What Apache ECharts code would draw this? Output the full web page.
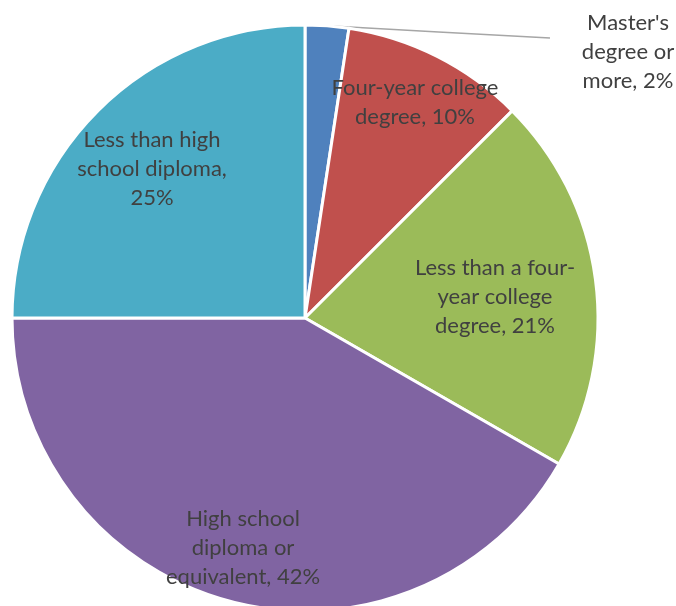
<!DOCTYPE html>
<html>
<head>
<meta charset="utf-8">
<script src="https://cdn.jsdelivr.net/npm/echarts@6/dist/echarts.min.js"></script>
<style>
  html, body { margin: 0; padding: 0; background: #fff; }
  #chart { width: 676px; height: 606px; }
</style>
</head>
<body>
<div id="chart"></div>
<script>
// Educational attainment shares (percent), clockwise from 12 o'clock
const categories = [
  "Master's\ndegree or\nmore",
  'Four-year college\ndegree',
  'Less than a four-\nyear college\ndegree',
  'High school\ndiploma or\nequivalent',
  'Less than high\nschool diploma'
];
const shares = [2.4, 10.1, 20.8, 41.7, 25.0];
const colors = ['#4F81BD', '#C0504D', '#9BBB59', '#8064A2', '#4BACC6'];

// Separator between a category name and its percentage
const separators = [', ', ', ', ', ', ', ', ',\n'];

// Label anchor points (label centres) for each slice
const labelSpots = [
  [628, 52],
  [415, 102],
  [495, 297],
  [243, 548],
  [152, 169]
];
// Where the leader line of the outside label ends
const leaderEnd = [550, 38];

const chart = echarts.init(document.getElementById('chart'), null, { renderer: 'canvas' });

chart.setOption({
  animation: false,
  series: [{
    type: 'pie',
    center: [305, 318],
    radius: 293,
    startAngle: 90,
    clockwise: true,
    percentPrecision: 0,
    data: categories.map((name, i) => ({
      name: name,
      value: shares[i],
      itemStyle: { color: colors[i] },
      label: i === 0 ? { position: 'outside' } : { position: 'inside' },
      labelLine: { show: i === 0 }
    })),
    itemStyle: { borderColor: '#ffffff', borderWidth: 3 },
    label: {
      show: true,
      formatter: function (p) {
        return p.name + separators[p.dataIndex] + p.percent + '%';
      },
      fontFamily: 'Lato, "Open Sans", sans-serif',
      fontSize: 22,
      lineHeight: 29,
      color: '#404040',
      align: 'center'
    },
    labelLine: {
      lineStyle: { color: '#A6A6A6', width: 1.5 },
      length: 10,
      length2: 10
    },
    labelLayout: function (params) {
      const p = labelSpots[params.dataIndex];
      const out = {
        x: p[0],
        y: p[1],
        align: 'center',
        verticalAlign: 'middle'
      };
      if (params.dataIndex === 0 && params.labelLinePoints) {
        const s = params.labelLinePoints[0];
        out.labelLinePoints = [
          [s[0], s[1]],
          [(s[0] + leaderEnd[0]) / 2, (s[1] + leaderEnd[1]) / 2],
          leaderEnd.slice()
        ];
      }
      return out;
    },
    emphasis: { disabled: true }
  }]
});
</script>
</body>
</html>
